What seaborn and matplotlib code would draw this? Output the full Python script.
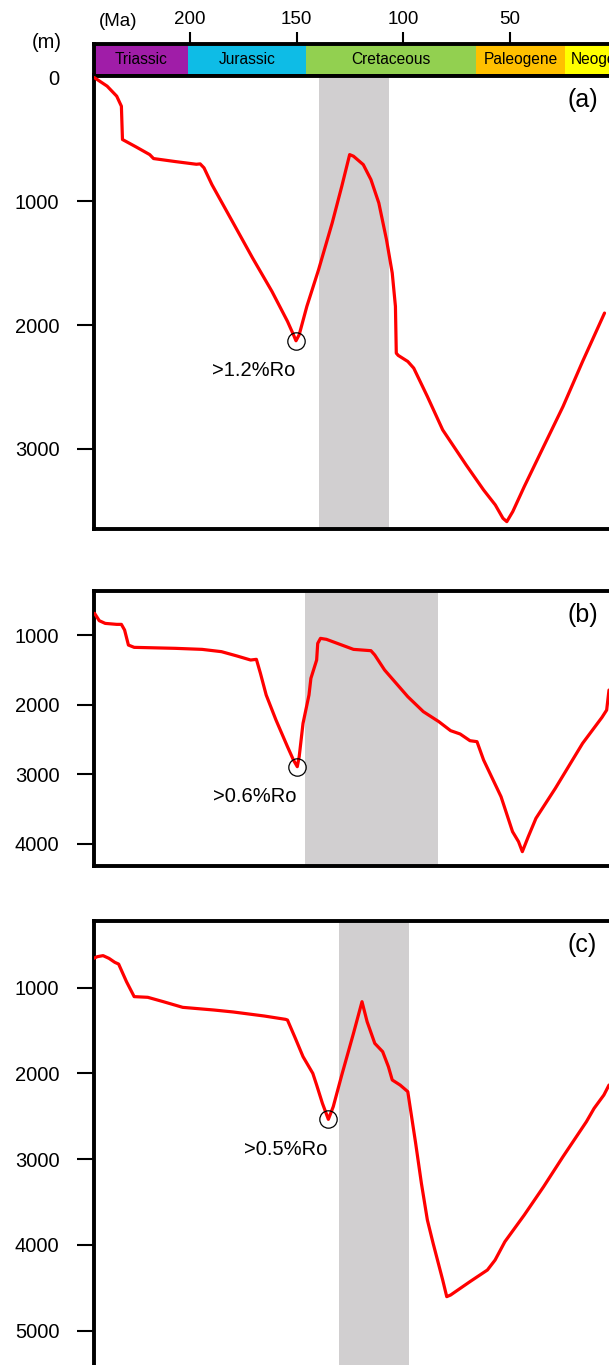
import numpy as np
import pandas as pd
import seaborn as sns
import matplotlib.pyplot as plt

sns.set_style("white")
plt.rcParams['font.family'] = ['Liberation Sans', 'DejaVu Sans']
plt.rcParams['text.color'] = 'black'
plt.rcParams['xtick.color'] = 'black'
plt.rcParams['ytick.color'] = 'black'
plt.rcParams['axes.labelcolor'] = 'black'

# geologic periods shown in the top bar (Ma)
period_names = ["Triassic", "Jurassic", "Cretaceous", "Paleogene", "Neogene"]
period_start = [252.0, 201.0, 145.5, 65.7, 23.9]
period_end = [201.0, 145.5, 65.7, 23.9, 0.0]
period_colors = ["#A01DA8", "#0EBCE6", "#92D050", "#FFC000", "#FFFF00"]
age_ticks = [200, 150, 100, 50]

# burial history (a)
age_a = [245.1, 239.0, 234.5, 232.3, 231.8, 225.4, 219.0, 217.2, 207.1, 197.1, 195.3, 193.5,
         189.8, 179.8, 170.7, 161.6, 154.3, 151.5, 150.3, 148.8, 145.2, 139.7, 133.3, 128.8,
         125.1, 123.3, 118.7, 115.1, 111.4, 107.8, 105.1, 103.6, 103.2, 102.3, 97.8, 95.0,
         88.6, 81.4, 70.4, 62.2, 56.7, 53.1, 51.3, 48.5, 43.1, 34.0, 24.9, 15.7, 5.4]
depth_a = [0, 70, 151, 232, 501, 561, 623, 655, 679, 701, 698, 730,
           865, 1175, 1458, 1728, 1970, 2078, 2127, 2078, 1849, 1553, 1175, 879,
           623, 636, 704, 825, 1014, 1310, 1580, 1849, 2227, 2245, 2294, 2348,
           2577, 2847, 3130, 3332, 3453, 3561, 3588, 3507, 3305, 2981, 2658, 2294, 1903]

# burial history (b)
age_b = [244.9, 242.7, 239.9, 234.5, 232.3, 230.8, 229.0, 226.3, 207.1, 194.4, 185.3, 178.0,
         171.6, 168.9, 167.0, 164.3, 159.7, 154.3, 151.5, 149.7, 148.8, 147.0, 144.2, 143.3,
         140.6, 140.1, 138.8, 136.0, 123.3, 115.1, 113.3, 108.7, 97.8, 90.5, 83.2, 77.7,
         73.2, 68.6, 65.3, 62.2, 54.0, 48.6, 45.8, 44.0, 41.2, 37.6, 28.5, 15.7, 6.6, 4.4, 3.3]
depth_b = [689, 794, 833, 847, 847, 928, 1144, 1177, 1191, 1206, 1239, 1301,
           1359, 1349, 1550, 1861, 2220, 2603, 2794, 2890, 2746, 2268, 1861, 1622,
           1359, 1120, 1048, 1062, 1206, 1225, 1287, 1502, 1885, 2100, 2244, 2373,
           2421, 2517, 2531, 2794, 3321, 3823, 3966, 4110, 3894, 3631, 3201, 2555, 2182, 2077, 1790]

# burial history (c)
age_c = [245.4, 243.6, 240.9, 238.1, 235.4, 233.6, 229.9, 226.3, 219.9, 212.6, 203.5, 188.9,
         179.8, 165.2, 155.2, 154.3, 150.6, 147.0, 142.4, 140.6, 137.9, 135.1, 132.8, 128.8,
         123.3, 119.3, 116.9, 113.3, 109.6, 106.9, 105.1, 101.4, 97.8, 94.1, 91.4, 88.6,
         85.9, 81.4, 79.5, 77.7, 68.6, 60.4, 56.8, 52.2, 43.1, 34.0, 24.9, 13.9, 10.3, 5.7, 3.3]
depth_c = [658, 638, 626, 658, 704, 724, 930, 1104, 1112, 1163, 1229, 1260,
           1283, 1330, 1369, 1377, 1590, 1804, 1999, 2135, 2348, 2535, 2387, 2018,
           1532, 1163, 1396, 1649, 1746, 1921, 2076, 2135, 2212, 2815, 3282, 3709,
           3981, 4409, 4603, 4584, 4428, 4292, 4176, 3962, 3651, 3320, 2970, 2562, 2407, 2251, 2135]

panel_labels = ["(a)", "(b)", "(c)"]
ro_labels = [">1.2%Ro", ">0.6%Ro", ">0.5%Ro"]
ro_age = [150.3, 149.7, 135.1]
ro_depth = [2127, 2890, 2535]
shade_start = [139.3, 146.1, 130.0]
shade_end = [106.5, 83.6, 97.4]
depth_ticks = [[0, 1000, 2000, 3000], [1000, 2000, 3000, 4000], [1000, 2000, 3000, 4000, 5000]]
depth_lims = [(3645, -16), (4316, 368), (5400, 222)]

W, H = 609, 1365
fig = plt.figure(figsize=(W / 100, H / 100), dpi=100)
x0 = 93.5 / W
xlim = (245.4, 3.3)
spine_w = 2.8

# top bar
axbar = fig.add_axes([x0, 1 - 75.5 / H, 1 - x0, 31.5 / H])
for name, s, e, c in zip(period_names, period_start, period_end, period_colors):
    axbar.barh(0, s - e, left=e, height=1, color=c, edgecolor="none")
    if name == "Neogene":
        # label runs past the cropped right edge, as in the source figure
        axbar.text(s - 2.6, 0, name, ha="left", va="center", fontsize=11.2, clip_on=True)
    else:
        mid = (min(s, xlim[0]) + e) / 2
        axbar.text(mid, 0, name, ha="center", va="center", fontsize=11.2, clip_on=True)
axbar.set_xlim(xlim)
axbar.set_ylim(-0.5, 0.5)
axbar.set_yticks([])
axbar.xaxis.tick_top()
axbar.set_xticks(age_ticks)
axbar.set_xticklabels([str(t) for t in age_ticks], fontsize=13.5)
axbar.tick_params(axis="x", direction="out", length=8.5, width=1.5, pad=3, color="black")
for side, sp in axbar.spines.items():
    sp.set_linewidth(spine_w)
    sp.set_color("black")
axbar.spines["right"].set_visible(False)

fig.text(118.4 / W, 1 - 21 / H, "(Ma)", ha="center", va="center", fontsize=13.5)
fig.text(46.6 / W, 1 - 43 / H, "(m)", ha="center", va="center", fontsize=14.5)

rects = [(528.7, 453.2), (866, 275), (1365, 444)]
curves = [(age_a, depth_a), (age_b, depth_b), (age_c, depth_c)]

for i in range(3):
    bottom_px, h_px = rects[i]
    ax = fig.add_axes([x0, 1 - bottom_px / H, 1 - x0, h_px / H])
    ax.axvspan(shade_start[i], shade_end[i], color="#D1CFD0", lw=0, zorder=0)
    df = pd.DataFrame({"age": curves[i][0], "depth": curves[i][1]})
    sns.lineplot(data=df, x="age", y="depth", sort=False, estimator=None,
                 color="#FF0000", lw=2.3, ax=ax, zorder=3)
    ax.plot(ro_age[i], ro_depth[i], marker="o", ms=12.5, mfc="none", mec="black", mew=0.9, zorder=4)
    ax.annotate(ro_labels[i], (ro_age[i], ro_depth[i]), xytext=(-30.5, -21.5),
                textcoords="offset points", ha="center", va="center", fontsize=14.5)
    ax.annotate(panel_labels[i], (1, 1), xycoords="axes fraction", xytext=(-19, -17.5),
                textcoords="offset points", ha="center", va="center", fontsize=18)
    ax.set_xlim(xlim)
    ax.set_ylim(depth_lims[i])
    ax.set_xticks([])
    ax.set_yticks(depth_ticks[i])
    ax.set_yticklabels([str(t) for t in depth_ticks[i]], fontsize=14.5)
    ax.tick_params(axis="y", direction="out", length=12.5, width=1.5, pad=12, color="black", left=True)
    ax.set_xlabel("")
    ax.set_ylabel("")
    for side, sp in ax.spines.items():
        sp.set_linewidth(spine_w)
        sp.set_color("black")
    ax.spines["right"].set_visible(False)
    if i == 0:
        ax.yaxis.get_major_ticks()[0].tick1line.set_visible(False)
    if i == 2:
        ax.spines["bottom"].set_visible(False)

fig.savefig("out.png", dpi=100)
